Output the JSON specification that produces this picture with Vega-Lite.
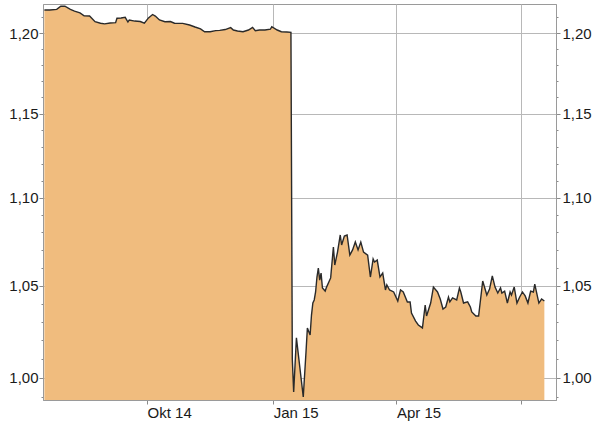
{
 "$schema": "https://vega.github.io/schema/vega-lite/v6.json",
 "width": 513,
 "height": 396,
 "autosize": "none",
 "padding": {"left": 43, "top": 4, "right": 44, "bottom": 24},
 "background": "white",
 "config": {
  "view": {"stroke": "#9a9a9a", "strokeWidth": 1},
  "font": "Liberation Sans",
  "axis": {"labelFont": "Liberation Sans", "labelFontSize": 15, "labelColor": "#1a1a1a", "domainColor": "#9a9a9a", "tickColor": "#8a8a8a", "gridColor": "#b8b8b8", "gridWidth": 1}
 },
 "data": {"values": [
  {"date": "2014-07-18", "v": 1.2147},
  {"date": "2014-07-22", "v": 1.2147},
  {"date": "2014-07-27", "v": 1.2151},
  {"date": "2014-07-30", "v": 1.2171},
  {"date": "2014-08-02", "v": 1.2171},
  {"date": "2014-08-06", "v": 1.2151},
  {"date": "2014-08-09", "v": 1.2140},
  {"date": "2014-08-13", "v": 1.2128},
  {"date": "2014-08-16", "v": 1.2110},
  {"date": "2014-08-20", "v": 1.2108},
  {"date": "2014-08-24", "v": 1.2072},
  {"date": "2014-08-28", "v": 1.2062},
  {"date": "2014-08-31", "v": 1.2058},
  {"date": "2014-09-04", "v": 1.2064},
  {"date": "2014-09-08", "v": 1.2066},
  {"date": "2014-09-09", "v": 1.2094},
  {"date": "2014-09-12", "v": 1.2096},
  {"date": "2014-09-15", "v": 1.2100},
  {"date": "2014-09-17", "v": 1.2070},
  {"date": "2014-09-18", "v": 1.2083},
  {"date": "2014-09-22", "v": 1.2076},
  {"date": "2014-09-26", "v": 1.2073},
  {"date": "2014-09-29", "v": 1.2062},
  {"date": "2014-10-02", "v": 1.2096},
  {"date": "2014-10-05", "v": 1.2118},
  {"date": "2014-10-07", "v": 1.2108},
  {"date": "2014-10-10", "v": 1.2083},
  {"date": "2014-10-14", "v": 1.2072},
  {"date": "2014-10-18", "v": 1.2073},
  {"date": "2014-10-21", "v": 1.2062},
  {"date": "2014-10-27", "v": 1.2061},
  {"date": "2014-11-01", "v": 1.2051},
  {"date": "2014-11-05", "v": 1.2038},
  {"date": "2014-11-09", "v": 1.2026},
  {"date": "2014-11-12", "v": 1.2008},
  {"date": "2014-11-16", "v": 1.2008},
  {"date": "2014-11-20", "v": 1.2015},
  {"date": "2014-11-23", "v": 1.2017},
  {"date": "2014-11-27", "v": 1.2022},
  {"date": "2014-12-01", "v": 1.2034},
  {"date": "2014-12-03", "v": 1.2019},
  {"date": "2014-12-06", "v": 1.2013},
  {"date": "2014-12-10", "v": 1.2008},
  {"date": "2014-12-14", "v": 1.2019},
  {"date": "2014-12-17", "v": 1.2036},
  {"date": "2014-12-19", "v": 1.2015},
  {"date": "2014-12-22", "v": 1.2019},
  {"date": "2014-12-26", "v": 1.2019},
  {"date": "2014-12-30", "v": 1.2024},
  {"date": "2014-12-31", "v": 1.2040},
  {"date": "2015-01-04", "v": 1.2019},
  {"date": "2015-01-07", "v": 1.2008},
  {"date": "2015-01-11", "v": 1.2006},
  {"date": "2015-01-14", "v": 1.2004},
  {"date": "2015-01-15", "v": 1.0100},
  {"date": "2015-01-16", "v": 0.9926},
  {"date": "2015-01-18", "v": 1.0214},
  {"date": "2015-01-23", "v": 0.9900},
  {"date": "2015-01-25", "v": 1.0138},
  {"date": "2015-01-26", "v": 1.0268},
  {"date": "2015-01-28", "v": 1.0230},
  {"date": "2015-01-29", "v": 1.0338},
  {"date": "2015-01-30", "v": 1.0404},
  {"date": "2015-01-31", "v": 1.0421},
  {"date": "2015-02-01", "v": 1.0465},
  {"date": "2015-02-02", "v": 1.0548},
  {"date": "2015-02-03", "v": 1.0598},
  {"date": "2015-02-04", "v": 1.0531},
  {"date": "2015-02-05", "v": 1.0570},
  {"date": "2015-02-06", "v": 1.0487},
  {"date": "2015-02-08", "v": 1.0470},
  {"date": "2015-02-09", "v": 1.0492},
  {"date": "2015-02-12", "v": 1.0543},
  {"date": "2015-02-14", "v": 1.0717},
  {"date": "2015-02-15", "v": 1.0615},
  {"date": "2015-02-17", "v": 1.0688},
  {"date": "2015-02-19", "v": 1.0785},
  {"date": "2015-02-20", "v": 1.0728},
  {"date": "2015-02-22", "v": 1.0779},
  {"date": "2015-02-24", "v": 1.0785},
  {"date": "2015-02-26", "v": 1.0671},
  {"date": "2015-02-28", "v": 1.0700},
  {"date": "2015-03-02", "v": 1.0745},
  {"date": "2015-03-04", "v": 1.0700},
  {"date": "2015-03-06", "v": 1.0745},
  {"date": "2015-03-08", "v": 1.0688},
  {"date": "2015-03-11", "v": 1.0671},
  {"date": "2015-03-13", "v": 1.0548},
  {"date": "2015-03-15", "v": 1.0649},
  {"date": "2015-03-16", "v": 1.0632},
  {"date": "2015-03-18", "v": 1.0643},
  {"date": "2015-03-20", "v": 1.0548},
  {"date": "2015-03-22", "v": 1.0570},
  {"date": "2015-03-24", "v": 1.0476},
  {"date": "2015-03-25", "v": 1.0504},
  {"date": "2015-03-27", "v": 1.0476},
  {"date": "2015-03-30", "v": 1.0465},
  {"date": "2015-04-02", "v": 1.0415},
  {"date": "2015-04-04", "v": 1.0476},
  {"date": "2015-04-06", "v": 1.0465},
  {"date": "2015-04-09", "v": 1.0410},
  {"date": "2015-04-11", "v": 1.0410},
  {"date": "2015-04-12", "v": 1.0349},
  {"date": "2015-04-15", "v": 1.0305},
  {"date": "2015-04-17", "v": 1.0284},
  {"date": "2015-04-20", "v": 1.0268},
  {"date": "2015-04-22", "v": 1.0393},
  {"date": "2015-04-23", "v": 1.0333},
  {"date": "2015-04-26", "v": 1.0404},
  {"date": "2015-04-28", "v": 1.0492},
  {"date": "2015-05-01", "v": 1.0465},
  {"date": "2015-05-03", "v": 1.0426},
  {"date": "2015-05-05", "v": 1.0371},
  {"date": "2015-05-07", "v": 1.0382},
  {"date": "2015-05-09", "v": 1.0437},
  {"date": "2015-05-10", "v": 1.0410},
  {"date": "2015-05-12", "v": 1.0432},
  {"date": "2015-05-15", "v": 1.0421},
  {"date": "2015-05-17", "v": 1.0487},
  {"date": "2015-05-18", "v": 1.0465},
  {"date": "2015-05-20", "v": 1.0404},
  {"date": "2015-05-23", "v": 1.0410},
  {"date": "2015-05-25", "v": 1.0382},
  {"date": "2015-05-26", "v": 1.0355},
  {"date": "2015-05-29", "v": 1.0333},
  {"date": "2015-05-31", "v": 1.0333},
  {"date": "2015-06-03", "v": 1.0526},
  {"date": "2015-06-06", "v": 1.0448},
  {"date": "2015-06-08", "v": 1.0481},
  {"date": "2015-06-10", "v": 1.0554},
  {"date": "2015-06-12", "v": 1.0492},
  {"date": "2015-06-14", "v": 1.0459},
  {"date": "2015-06-16", "v": 1.0487},
  {"date": "2015-06-17", "v": 1.0459},
  {"date": "2015-06-19", "v": 1.0470},
  {"date": "2015-06-21", "v": 1.0404},
  {"date": "2015-06-23", "v": 1.0465},
  {"date": "2015-06-24", "v": 1.0448},
  {"date": "2015-06-26", "v": 1.0492},
  {"date": "2015-06-28", "v": 1.0404},
  {"date": "2015-06-30", "v": 1.0437},
  {"date": "2015-07-02", "v": 1.0465},
  {"date": "2015-07-04", "v": 1.0443},
  {"date": "2015-07-06", "v": 1.0404},
  {"date": "2015-07-08", "v": 1.0470},
  {"date": "2015-07-10", "v": 1.0465},
  {"date": "2015-07-11", "v": 1.0509},
  {"date": "2015-07-14", "v": 1.0404},
  {"date": "2015-07-16", "v": 1.0426},
  {"date": "2015-07-18", "v": 1.0415}
 ]},
 "layer": [
  {
   "mark": {"type": "area", "color": "#F0BC7E", "opacity": 1},
   "encoding": {
    "x": {
     "field": "date", "type": "temporal",
     "scale": {"type": "utc", "nice": false, "domain": [{"year": 2014, "month": 7, "date": 17, "utc": true}, {"year": 2015, "month": 7, "date": 26, "hours": 12, "utc": true}]},
     "axis": {
      "orient": "bottom",
      "title": null,
      "values": [{"year": 2014, "month": 10, "date": 1, "utc": true}, {"year": 2015, "month": 1, "date": 1, "utc": true}, {"year": 2015, "month": 4, "date": 1, "utc": true}, {"year": 2015, "month": 7, "date": 1, "utc": true}],
      "labelExpr": "utcmonth(datum.value) == 6 ? '' : (['Jan','Feb','Mär','Apr','Mai','Jun','Jul','Aug','Sep','Okt','Nov','Dez'][utcmonth(datum.value)] + ' ' + utcFormat(datum.value, '%y'))",
      "labelAlign": "left",
      "labelBaseline": "top",
      "labelPadding": 1,
      "tickSize": 4,
      "grid": false,
      "domain": true,
      "zindex": 1,
      "labelFlush": false,
      "labelOverlap": false,
      "labelBound": false
     }
    },
    "y": {
     "field": "v", "type": "quantitative",
     "scale": {"type": "log", "domain": [0.98842, 1.21854], "nice": false, "zero": false},
     "axis": {
      "orient": "left", "title": null,
      "values": [0.99, 1.0, 1.01, 1.02, 1.03, 1.04, 1.05, 1.06, 1.07, 1.08, 1.09, 1.1, 1.11, 1.12, 1.13, 1.14, 1.15, 1.16, 1.17, 1.18, 1.19, 1.2, 1.21],
      "labelExpr": "abs(datum.value * 20 - round(datum.value * 20)) < 0.001 ? replace(format(datum.value, '.2f'), '.', ',') : ''",
      "tickSize": {"condition": {"test": "abs(datum.value * 20 - round(datum.value * 20)) < 0.001", "value": 4}, "value": 2},
      "grid": false,
      "domain": true,
      "zindex": 1,
      "labelPadding": 1,
      "labelOverlap": false,
      "labelBound": false,
      "labelFlush": false
     }
    },
    "y2": {"datum": 0.98842}
   }
  },
  {
   "mark": {"type": "line", "color": "#2a2a2a", "strokeWidth": 1.4},
   "encoding": {
    "x": {
     "field": "date", "type": "temporal",
     "scale": {"type": "utc", "nice": false, "domain": [{"year": 2014, "month": 7, "date": 17, "utc": true}, {"year": 2015, "month": 7, "date": 26, "hours": 12, "utc": true}]},
     "axis": {
      "orient": "top",
      "title": null,
      "values": [{"year": 2014, "month": 10, "date": 1, "utc": true}, {"year": 2015, "month": 1, "date": 1, "utc": true}, {"year": 2015, "month": 4, "date": 1, "utc": true}, {"year": 2015, "month": 7, "date": 1, "utc": true}],
      "labels": false,
      "ticks": false,
      "domain": false,
      "grid": true,
      "zindex": 0
     }
    },
    "y": {
     "field": "v", "type": "quantitative",
     "scale": {"type": "log", "domain": [0.98842, 1.21854], "nice": false, "zero": false},
     "axis": {
      "orient": "right", "title": null,
      "values": [0.99, 1.0, 1.01, 1.02, 1.03, 1.04, 1.05, 1.06, 1.07, 1.08, 1.09, 1.1, 1.11, 1.12, 1.13, 1.14, 1.15, 1.16, 1.17, 1.18, 1.19, 1.2, 1.21],
      "labelExpr": "abs(datum.value * 20 - round(datum.value * 20)) < 0.001 ? replace(format(datum.value, '.2f'), '.', ',') : ''",
      "tickSize": {"condition": {"test": "abs(datum.value * 20 - round(datum.value * 20)) < 0.001", "value": 4}, "value": 2},
      "gridOpacity": {"condition": {"test": "abs(datum.value * 20 - round(datum.value * 20)) < 0.001", "value": 1}, "value": 0},
      "grid": true,
      "domain": true,
      "zindex": 0,
      "labelPadding": 2,
      "labelOverlap": false,
      "labelBound": false,
      "labelFlush": false
     }
    }
   }
  }
 ],
 "resolve": {"axis": {"x": "independent", "y": "independent"}}
}
